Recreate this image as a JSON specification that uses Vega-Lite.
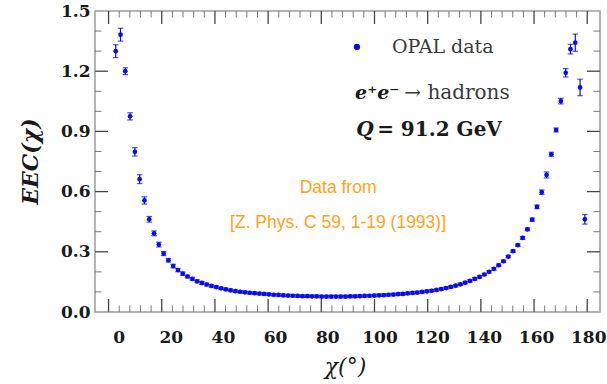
{
  "$schema": "https://vega.github.io/schema/vega-lite/v6.json",
  "width": 505,
  "height": 301,
  "autosize": {"type": "none"},
  "padding": {"left": 95, "top": 11, "right": 7, "bottom": 72},
  "background": "white",
  "config": {
    "view": {"stroke": "#9c9c9c", "strokeWidth": 1.5},
    "axis": {"domain": false, "grid": false, "labelFlush": false, "labelOverlap": false}
  },
  "datasets": {
    "xMajor": [{"v": 0}, {"v": 20}, {"v": 40}, {"v": 60}, {"v": 80}, {"v": 100}, {"v": 120}, {"v": 140}, {"v": 160}, {"v": 180}],
    "xMinor": [{"v": 4}, {"v": 8}, {"v": 12}, {"v": 16}, {"v": 24}, {"v": 28}, {"v": 32}, {"v": 36}, {"v": 44}, {"v": 48}, {"v": 52}, {"v": 56}, {"v": 64}, {"v": 68}, {"v": 72}, {"v": 76}, {"v": 84}, {"v": 88}, {"v": 92}, {"v": 96}, {"v": 104}, {"v": 108}, {"v": 112}, {"v": 116}, {"v": 124}, {"v": 128}, {"v": 132}, {"v": 136}, {"v": 144}, {"v": 148}, {"v": 152}, {"v": 156}, {"v": 164}, {"v": 168}, {"v": 172}, {"v": 176}],
    "yMajor": [{"v": 0.3}, {"v": 0.6}, {"v": 0.9}, {"v": 1.2}],
    "yMinor": [{"v": 0.1}, {"v": 0.2}, {"v": 0.4}, {"v": 0.5}, {"v": 0.7}, {"v": 0.8}, {"v": 1.0}, {"v": 1.1}, {"v": 1.3}, {"v": 1.4}]
  },
  "data": {
    "values": [
      {"chi": 2.7, "eec": 1.300, "err": 0.032},
      {"chi": 4.5, "eec": 1.382, "err": 0.032},
      {"chi": 6.3, "eec": 1.200, "err": 0.017},
      {"chi": 8.1, "eec": 0.975, "err": 0.018},
      {"chi": 9.9, "eec": 0.798, "err": 0.021},
      {"chi": 11.7, "eec": 0.662, "err": 0.022},
      {"chi": 13.5, "eec": 0.556, "err": 0.018},
      {"chi": 15.3, "eec": 0.462, "err": 0.014},
      {"chi": 17.1, "eec": 0.392, "err": 0.012},
      {"chi": 18.9, "eec": 0.336, "err": 0.012},
      {"chi": 20.7, "eec": 0.291, "err": 0.010},
      {"chi": 22.5, "eec": 0.258, "err": 0.009},
      {"chi": 24.3, "eec": 0.229, "err": 0.009},
      {"chi": 26.1, "eec": 0.209, "err": 0.008},
      {"chi": 27.9, "eec": 0.191, "err": 0.008},
      {"chi": 29.7, "eec": 0.177, "err": 0.007},
      {"chi": 31.5, "eec": 0.165, "err": 0.007},
      {"chi": 33.3, "eec": 0.153, "err": 0.007},
      {"chi": 35.1, "eec": 0.145, "err": 0.007},
      {"chi": 36.9, "eec": 0.137, "err": 0.007},
      {"chi": 38.7, "eec": 0.130, "err": 0.006},
      {"chi": 40.5, "eec": 0.124, "err": 0.006},
      {"chi": 42.3, "eec": 0.118, "err": 0.006},
      {"chi": 44.1, "eec": 0.113, "err": 0.006},
      {"chi": 45.9, "eec": 0.108, "err": 0.006},
      {"chi": 47.7, "eec": 0.104, "err": 0.006},
      {"chi": 49.5, "eec": 0.101, "err": 0.006},
      {"chi": 51.3, "eec": 0.098, "err": 0.006},
      {"chi": 53.1, "eec": 0.096, "err": 0.006},
      {"chi": 54.9, "eec": 0.094, "err": 0.006},
      {"chi": 56.7, "eec": 0.092, "err": 0.006},
      {"chi": 58.5, "eec": 0.090, "err": 0.006},
      {"chi": 60.3, "eec": 0.088, "err": 0.006},
      {"chi": 62.1, "eec": 0.086, "err": 0.006},
      {"chi": 63.9, "eec": 0.085, "err": 0.006},
      {"chi": 65.7, "eec": 0.083, "err": 0.006},
      {"chi": 67.5, "eec": 0.082, "err": 0.006},
      {"chi": 69.3, "eec": 0.081, "err": 0.006},
      {"chi": 71.1, "eec": 0.080, "err": 0.006},
      {"chi": 72.9, "eec": 0.079, "err": 0.006},
      {"chi": 74.7, "eec": 0.079, "err": 0.006},
      {"chi": 76.5, "eec": 0.078, "err": 0.006},
      {"chi": 78.3, "eec": 0.078, "err": 0.006},
      {"chi": 80.1, "eec": 0.077, "err": 0.006},
      {"chi": 81.9, "eec": 0.077, "err": 0.006},
      {"chi": 83.7, "eec": 0.077, "err": 0.006},
      {"chi": 85.5, "eec": 0.077, "err": 0.006},
      {"chi": 87.3, "eec": 0.077, "err": 0.006},
      {"chi": 89.1, "eec": 0.077, "err": 0.006},
      {"chi": 90.9, "eec": 0.078, "err": 0.006},
      {"chi": 92.7, "eec": 0.078, "err": 0.006},
      {"chi": 94.5, "eec": 0.079, "err": 0.006},
      {"chi": 96.3, "eec": 0.080, "err": 0.006},
      {"chi": 98.1, "eec": 0.081, "err": 0.006},
      {"chi": 99.9, "eec": 0.082, "err": 0.006},
      {"chi": 101.7, "eec": 0.083, "err": 0.006},
      {"chi": 103.5, "eec": 0.084, "err": 0.006},
      {"chi": 105.3, "eec": 0.086, "err": 0.006},
      {"chi": 107.1, "eec": 0.087, "err": 0.006},
      {"chi": 108.9, "eec": 0.089, "err": 0.006},
      {"chi": 110.7, "eec": 0.090, "err": 0.006},
      {"chi": 112.5, "eec": 0.093, "err": 0.006},
      {"chi": 114.3, "eec": 0.095, "err": 0.006},
      {"chi": 116.1, "eec": 0.097, "err": 0.006},
      {"chi": 117.9, "eec": 0.100, "err": 0.006},
      {"chi": 119.7, "eec": 0.103, "err": 0.006},
      {"chi": 121.5, "eec": 0.106, "err": 0.006},
      {"chi": 123.3, "eec": 0.110, "err": 0.006},
      {"chi": 125.1, "eec": 0.114, "err": 0.006},
      {"chi": 126.9, "eec": 0.119, "err": 0.006},
      {"chi": 128.7, "eec": 0.125, "err": 0.006},
      {"chi": 130.5, "eec": 0.131, "err": 0.006},
      {"chi": 132.3, "eec": 0.138, "err": 0.006},
      {"chi": 134.1, "eec": 0.146, "err": 0.006},
      {"chi": 135.9, "eec": 0.155, "err": 0.006},
      {"chi": 137.7, "eec": 0.165, "err": 0.006},
      {"chi": 139.5, "eec": 0.175, "err": 0.006},
      {"chi": 141.3, "eec": 0.187, "err": 0.006},
      {"chi": 143.1, "eec": 0.200, "err": 0.006},
      {"chi": 144.9, "eec": 0.215, "err": 0.006},
      {"chi": 146.7, "eec": 0.233, "err": 0.006},
      {"chi": 148.5, "eec": 0.253, "err": 0.006},
      {"chi": 150.3, "eec": 0.276, "err": 0.006},
      {"chi": 152.1, "eec": 0.303, "err": 0.006},
      {"chi": 153.9, "eec": 0.333, "err": 0.006},
      {"chi": 155.7, "eec": 0.369, "err": 0.007},
      {"chi": 157.5, "eec": 0.412, "err": 0.007},
      {"chi": 159.3, "eec": 0.460, "err": 0.008},
      {"chi": 161.1, "eec": 0.524, "err": 0.009},
      {"chi": 162.9, "eec": 0.597, "err": 0.011},
      {"chi": 164.7, "eec": 0.683, "err": 0.015},
      {"chi": 166.5, "eec": 0.786, "err": 0.010},
      {"chi": 168.3, "eec": 0.907, "err": 0.010},
      {"chi": 170.1, "eec": 1.051, "err": 0.014},
      {"chi": 171.9, "eec": 1.192, "err": 0.021},
      {"chi": 173.7, "eec": 1.310, "err": 0.024},
      {"chi": 175.5, "eec": 1.342, "err": 0.043},
      {"chi": 177.3, "eec": 1.119, "err": 0.041},
      {"chi": 179.1, "eec": 0.462, "err": 0.024}
    ]
  },
  "resolve": {"axis": {"x": "independent", "y": "independent"}},
  "layer": [
    {
      "mark": {"type": "point", "opacity": 0},
      "encoding": {
        "x": {
          "field": "chi", "type": "quantitative",
          "scale": {"domain": [-5.1, 184.8], "nice": false, "zero": false},
          "axis": {
            "orient": "bottom", "values": [0, 20, 40, 60, 80, 100, 120, 140, 160, 180],
            "ticks": false, "tickSize": 0, "labelPadding": 25, "labelBaseline": "middle",
            "labelOffset": {"expr": "10 - datum.value / 20"},
            "labelFont": "DejaVu Serif", "labelFontWeight": "bold", "labelFontSize": 17, "labelColor": "#1a1a1a",
            "title": "χ(°)", "titleFont": "DejaVu Serif", "titleFontStyle": "italic", "titleFontWeight": "normal",
            "titleFontSize": 22, "titleColor": "#1a1a1a", "titleX": 250, "titleY": 54,
            "titleAlign": "center", "titleBaseline": "middle"
          }
        },
        "y": {
          "field": "eec", "type": "quantitative",
          "scale": {"domain": [0, 1.5], "nice": false, "zero": false},
          "axis": {
            "orient": "left", "values": [0, 0.3, 0.6, 0.9, 1.2, 1.5], "format": ".1f",
            "ticks": false, "tickSize": 0, "labelPadding": 5,
            "labelFont": "DejaVu Serif", "labelFontWeight": "bold", "labelFontSize": 17, "labelColor": "#1a1a1a",
            "title": "EEC(χ)", "titleFont": "DejaVu Serif", "titleFontStyle": "italic", "titleFontWeight": "bold",
            "titleFontSize": 22, "titleColor": "#1a1a1a", "titleAngle": -90, "titleX": -65, "titleY": 150,
            "titleAlign": "center", "titleBaseline": "middle"
          }
        }
      }
    },
    {
      "data": {"name": "xMajor"},
      "mark": {"type": "rule", "color": "#454545", "strokeWidth": 1.3},
      "encoding": {
        "x": {"field": "v", "type": "quantitative", "axis": null},
        "y": {"datum": 0, "type": "quantitative", "axis": null},
        "y2": {"datum": 0.0648}
      }
    },
    {
      "data": {"name": "xMajor"},
      "mark": {"type": "rule", "color": "#454545", "strokeWidth": 1.3},
      "encoding": {
        "x": {"field": "v", "type": "quantitative", "axis": null},
        "y": {"datum": 1.5, "type": "quantitative", "axis": null},
        "y2": {"datum": 1.4352}
      }
    },
    {
      "data": {"name": "xMinor"},
      "mark": {"type": "rule", "color": "#7a7a7a", "strokeWidth": 1},
      "encoding": {
        "x": {"field": "v", "type": "quantitative", "axis": null},
        "y": {"datum": 0, "type": "quantitative", "axis": null},
        "y2": {"datum": 0.0324}
      }
    },
    {
      "data": {"name": "xMinor"},
      "mark": {"type": "rule", "color": "#7a7a7a", "strokeWidth": 1},
      "encoding": {
        "x": {"field": "v", "type": "quantitative", "axis": null},
        "y": {"datum": 1.5, "type": "quantitative", "axis": null},
        "y2": {"datum": 1.4676}
      }
    },
    {
      "data": {"name": "yMajor"},
      "mark": {"type": "rule", "color": "#454545", "strokeWidth": 1.3},
      "encoding": {
        "y": {"field": "v", "type": "quantitative", "axis": null},
        "x": {"datum": -5.1, "type": "quantitative", "axis": null},
        "x2": {"datum": -0.211}
      }
    },
    {
      "data": {"name": "yMajor"},
      "mark": {"type": "rule", "color": "#454545", "strokeWidth": 1.3},
      "encoding": {
        "y": {"field": "v", "type": "quantitative", "axis": null},
        "x": {"datum": 184.8, "type": "quantitative", "axis": null},
        "x2": {"datum": 179.911}
      }
    },
    {
      "data": {"name": "yMinor"},
      "mark": {"type": "rule", "color": "#7a7a7a", "strokeWidth": 1},
      "encoding": {
        "y": {"field": "v", "type": "quantitative", "axis": null},
        "x": {"datum": -5.1, "type": "quantitative", "axis": null},
        "x2": {"datum": -2.656}
      }
    },
    {
      "data": {"name": "yMinor"},
      "mark": {"type": "rule", "color": "#7a7a7a", "strokeWidth": 1},
      "encoding": {
        "y": {"field": "v", "type": "quantitative", "axis": null},
        "x": {"datum": 184.8, "type": "quantitative", "axis": null},
        "x2": {"datum": 182.356}
      }
    },
    {
      "mark": {"type": "errorbar", "color": "#0a0af0", "thickness": 1.2, "ticks": {"size": 5.5, "color": "#0a0af0", "thickness": 1.2}},
      "encoding": {
        "x": {"field": "chi", "type": "quantitative", "scale": {"domain": [-5.1, 184.8], "nice": false, "zero": false}, "axis": null},
        "y": {"field": "eec", "type": "quantitative", "scale": {"domain": [0, 1.5], "nice": false, "zero": false}, "axis": null},
        "yError": {"field": "err"}
      }
    },
    {
      "mark": {"type": "point", "filled": true, "opacity": 1, "size": 22, "color": "#0a0af0"},
      "encoding": {
        "x": {"field": "chi", "type": "quantitative", "scale": {"domain": [-5.1, 184.8], "nice": false, "zero": false}, "axis": null},
        "y": {"field": "eec", "type": "quantitative", "scale": {"domain": [0, 1.5], "nice": false, "zero": false}, "axis": null}
      }
    },
    {
      "data": {"values": [{"t": "OPAL data"}]},
      "mark": {"type": "point", "filled": true, "opacity": 1, "size": 40, "color": "#0a0af0"},
      "encoding": {
        "x": {"datum": 93.4, "type": "quantitative", "axis": null},
        "y": {"datum": 1.321, "type": "quantitative", "axis": null}
      }
    },
    {
      "data": {"values": [{"t": "OPAL data"}]},
      "mark": {"type": "text", "align": "left", "baseline": "middle", "font": "DejaVu Serif", "fontSize": 19, "color": "#3a3a3a"},
      "encoding": {
        "x": {"datum": 106.6, "type": "quantitative", "axis": null},
        "y": {"datum": 1.32, "type": "quantitative", "axis": null},
        "text": {"field": "t"}
      }
    },
    {
      "data": {"values": [{"t": "e⁺e⁻"}]},
      "mark": {"type": "text", "align": "left", "baseline": "middle", "font": "DejaVu Serif", "fontSize": 19, "fontStyle": "italic", "fontWeight": "bold", "color": "#1a1a1a"},
      "encoding": {
        "x": {"datum": 92.7, "type": "quantitative", "axis": null},
        "y": {"datum": 1.092, "type": "quantitative", "axis": null},
        "text": {"field": "t"}
      }
    },
    {
      "data": {"values": [{"t": "→ hadrons"}]},
      "mark": {"type": "text", "align": "left", "baseline": "middle", "font": "DejaVu Serif", "fontSize": 20, "color": "#3a3a3a"},
      "encoding": {
        "x": {"datum": 111.2, "type": "quantitative", "axis": null},
        "y": {"datum": 1.092, "type": "quantitative", "axis": null},
        "text": {"field": "t"}
      }
    },
    {
      "data": {"values": [{"t": "Q"}]},
      "mark": {"type": "text", "align": "left", "baseline": "middle", "font": "DejaVu Serif", "fontSize": 20, "fontStyle": "italic", "fontWeight": "bold", "color": "#1a1a1a"},
      "encoding": {
        "x": {"datum": 93.1, "type": "quantitative", "axis": null},
        "y": {"datum": 0.907, "type": "quantitative", "axis": null},
        "text": {"field": "t"}
      }
    },
    {
      "data": {"values": [{"t": "= 91.2 GeV"}]},
      "mark": {"type": "text", "align": "left", "baseline": "middle", "font": "DejaVu Serif", "fontSize": 20, "fontWeight": "bold", "color": "#1a1a1a"},
      "encoding": {
        "x": {"datum": 101.0, "type": "quantitative", "axis": null},
        "y": {"datum": 0.907, "type": "quantitative", "axis": null},
        "text": {"field": "t"}
      }
    },
    {
      "data": {"values": [{"t": "Data from"}]},
      "mark": {"type": "text", "align": "center", "baseline": "middle", "font": "Liberation Sans", "fontSize": 17.5, "color": "#ffa31a"},
      "encoding": {
        "x": {"datum": 86.3, "type": "quantitative", "axis": null},
        "y": {"datum": 0.62, "type": "quantitative", "axis": null},
        "text": {"field": "t"}
      }
    },
    {
      "data": {"values": [{"t": "[Z. Phys. C 59, 1-19 (1993)]"}]},
      "mark": {"type": "text", "align": "center", "baseline": "middle", "font": "Liberation Sans", "fontSize": 17.5, "color": "#ffa31a"},
      "encoding": {
        "x": {"datum": 86.3, "type": "quantitative", "axis": null},
        "y": {"datum": 0.445, "type": "quantitative", "axis": null},
        "text": {"field": "t"}
      }
    }
  ]
}
